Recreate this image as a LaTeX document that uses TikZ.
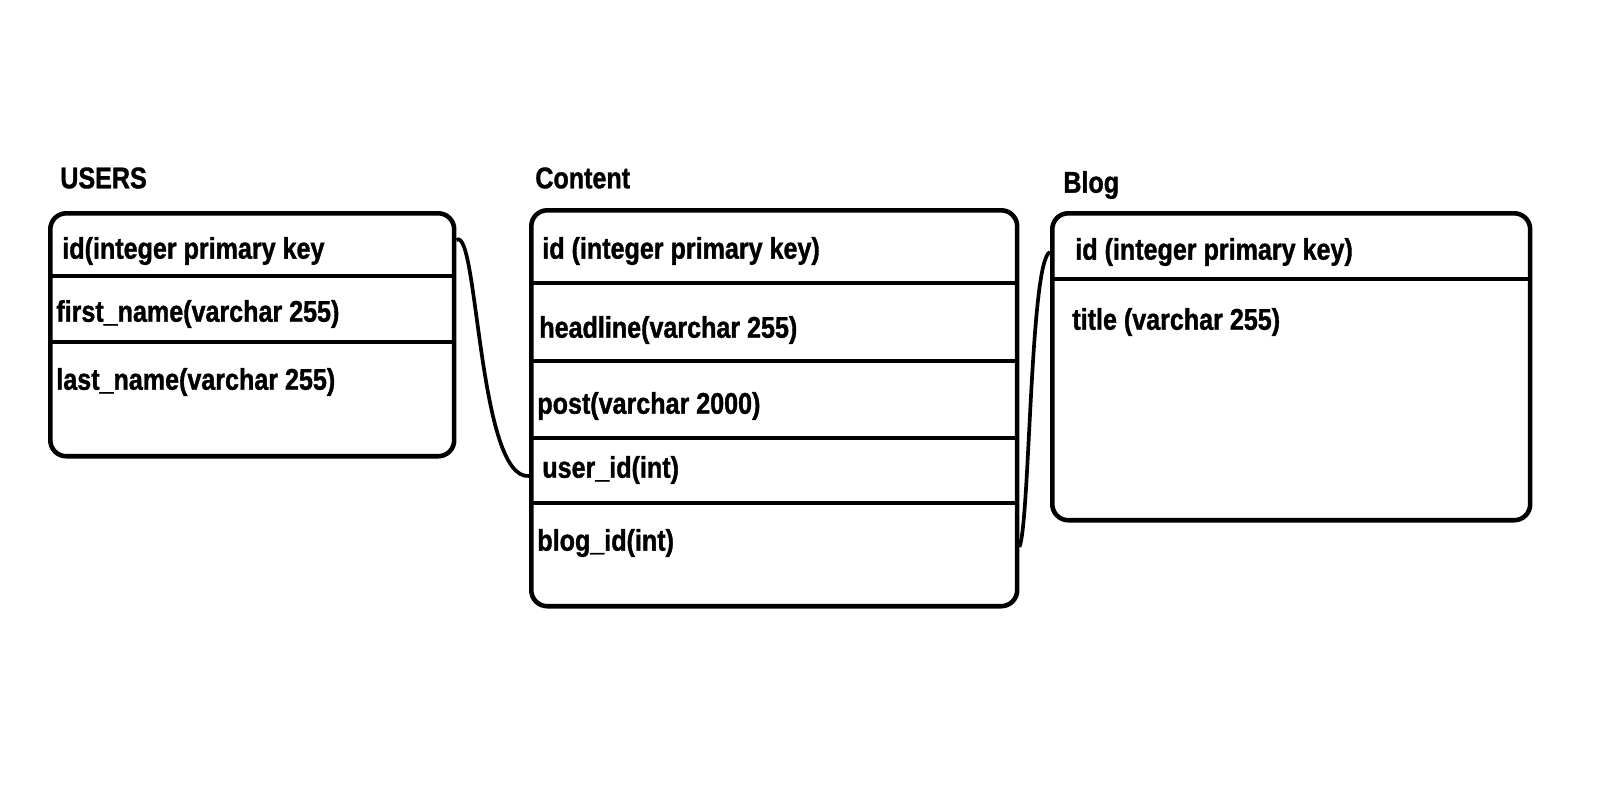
\documentclass[tikz,border=0pt]{standalone}
\usepackage{fontspec}
\setmainfont{Liberation Sans}[FakeStretch=0.84, BoldFeatures={FakeBold=1.2}]
\usepackage{tikz}
\usetikzlibrary{calc}
\tikzset{
  tablebox/.style={draw=black, line width=2.6pt, rounded corners=0.32cm, anchor=north west, inner sep=0pt},
  rowline/.style={draw=black, line width=2.6pt},
  link/.style={draw=black, line width=2.1pt},
  field/.style={anchor=west, inner sep=0pt, font=\fontsize{17}{20}\selectfont\bfseries},
  tabletitle/.style={anchor=west, inner sep=0pt, font=\fontsize{17}{20}\selectfont\bfseries}
}

\begin{document}
\begin{tikzpicture}[x=0.02cm, y=-0.02cm]
        \useasboundingbox[fill=white] (0,0) rectangle (1614,796);
        % tables
        \node (users) [tablebox, minimum width=8.08cm, minimum height=4.86cm] at (48,211) {};
        \node (content) [tablebox, minimum width=9.72cm, minimum height=7.92cm] at (529,208) {};
        \node (blog) [tablebox, minimum width=9.56cm, minimum height=6.14cm] at (1050,211) {};
        % titles
        \node (userstitle) [tabletitle] at (60,178) {USERS};
        \node (contenttitle) [tabletitle] at (535,178) {Content};
        \node (blogtitle) [tabletitle] at (1063,185) {Blog};
        % row lines
        \foreach \y in {276, 342} {
          \draw[rowline] (users.west |- 0,\y) -- (users.east |- 0,\y);
        }
        \foreach \y in {283, 361, 438, 503} {
          \draw[rowline] (content.west |- 0,\y) -- (content.east |- 0,\y);
        }
        \draw[rowline] (blog.west |- 0,279) -- (blog.east |- 0,279);
        % fields
        \node (usersid) [field] at (62,251) {id(integer primary key};
        \node (usersfirst) [field] at (56,314) {first\_name(varchar 255)};
        \node (userslast) [field] at (56,382) {last\_name(varchar 255)};
        \node (contentid) [field] at (542,251) {id (integer primary key)};
        \node (contenthead) [field] at (539,330) {headline(varchar 255)};
        \node (contentpost) [field] at (537,406) {post(varchar 2000)};
        \node (contentuser) [field] at (542,470) {user\_id(int)};
        \node (contentblog) [field] at (537,543) {blog\_id(int)};
        \node (blogid) [field] at (1075,252) {id (integer primary key)};
        \node (blogtitlefield) [field] at (1072,322) {title (varchar 255)};
        % links
        \coordinate (userskey) at (users.east |- 0,240);
        \coordinate (contentuserend) at (content.west |- 0,476);
        \coordinate (contentblogend) at (content.east |- 0,547);
        \coordinate (blogkey) at (blog.west |- 0,252);
        \draw[link] (userskey) .. controls (478,225) and (478,480) .. (contentuserend);
        \draw[link] (contentblogend) .. controls (1030,520) and (1030,260) .. (blogkey);
    \end{tikzpicture}
\end{document}
